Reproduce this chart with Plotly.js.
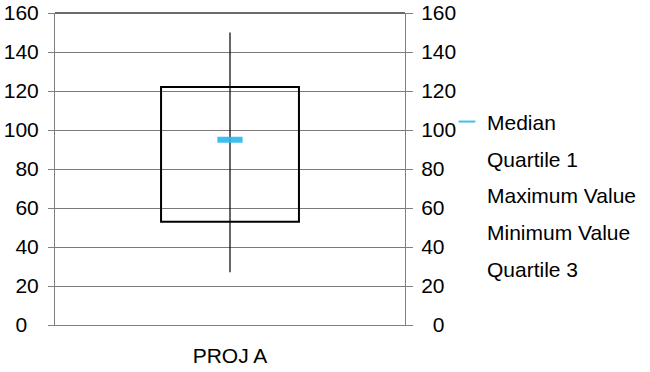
<!DOCTYPE html>
<html><head><meta charset="utf-8">
<script src="https://cdn.plot.ly/plotly-3.0.1.min.js"></script>
<style>html,body{margin:0;padding:0;background:#fff}#chart{width:650px;height:372px}</style>
</head><body><div id="chart"></div>
<script>
const categories = ["PROJ A"];
const quartile1 = [53];
const median = [95];
const quartile3 = [122];
const maxValue = [150];
const minValue = [27];
const yTicks = [0, 20, 40, 60, 80, 100, 120, 140, 160];

const FONT = {family: "Liberation Sans, Arial, sans-serif", size: 21, color: "#000"};
const boxHeight = quartile3.map((v, i) => v - quartile1[i]);
const leftText = yTicks.map(v => v === 0 ? "0\u2007" : String(v));
const rightText = yTicks.map(v => v === 0 ? "\u20070" : String(v));
const hidden = {color: "rgba(0,0,0,0)", size: 0, opacity: 0, line: {width: 0}};

const traces = [
  {type: "bar", x: categories, y: boxHeight, base: quartile1, width: 0.394,
   marker: {color: "rgba(255,255,255,0)", line: {color: "#000", width: 2}},
   showlegend: false, hoverinfo: "skip"},
  {type: "scatter", mode: "lines", x: [categories[0], categories[0]], y: [minValue[0], maxValue[0]],
   line: {color: "#000", width: 1.2}, showlegend: false, hoverinfo: "skip"},
  {type: "scatter", mode: "markers", name: "Median", x: categories, y: median, legendgroup: "a",
   marker: {symbol: "line-ew", size: 18, color: "#2cb8ea", opacity: 0.9, line: {color: "#2cb8ea", width: 6}}},
  {type: "scatter", mode: "markers", name: "Quartile 1", x: categories, y: quartile1, legendgroup: "b", marker: hidden},
  {type: "scatter", mode: "markers", name: "Maximum Value", x: categories, y: maxValue, legendgroup: "c", marker: hidden},
  {type: "scatter", mode: "markers", name: "Minimum Value", x: categories, y: minValue, legendgroup: "d", marker: hidden},
  {type: "scatter", mode: "markers", name: "Quartile 3", x: categories, y: quartile3, legendgroup: "e", marker: hidden},
  {type: "scatter", mode: "markers", x: categories, y: median, yaxis: "y2",
   marker: hidden, showlegend: false, hoverinfo: "skip"}
];

const layout = {
  width: 650, height: 372,
  margin: {l: 55, r: 245, t: 13, b: 47},
  paper_bgcolor: "#fff", plot_bgcolor: "#fff",
  font: FONT,
  showlegend: true,
  xaxis: {type: "category", range: [-0.5, 0.5], showgrid: false, ticks: "",
          showline: true, linecolor: "#7f7f7f", linewidth: 1, mirror: false,
          tickfont: FONT, ticklabelstandoff: 12, fixedrange: true},
  yaxis: {range: [0, 160], tickvals: yTicks, ticktext: leftText,
          showgrid: true, gridcolor: "#7a7a7a", gridwidth: 1, zeroline: false,
          showline: true, linecolor: "#7f7f7f", linewidth: 1,
          ticks: "outside", ticklen: 6, tickcolor: "#7f7f7f", tickfont: FONT,
          ticklabelstandoff: 5},
  yaxis2: {range: [0, 160], tickvals: yTicks, ticktext: rightText,
           overlaying: "y", side: "right", showgrid: false, zeroline: false,
           showline: true, linecolor: "#7f7f7f", linewidth: 1,
           ticks: "outside", ticklen: 7, tickcolor: "#7f7f7f", tickfont: FONT,
           ticklabelstandoff: 4},
  shapes: [{type: "line", xref: "paper", yref: "paper", x0: 0, x1: 1, y0: 1, y1: 1,
            line: {color: "#3a3a3a", width: 1.5}}],
  legend: {xref: "container", yref: "container", x: 0.6877, xanchor: "left",
           y: 0.7274, yanchor: "top", font: FONT,
           itemsizing: "constant",
           traceorder: "grouped", tracegroupgap: 6.5, bgcolor: "rgba(0,0,0,0)"}
};

Plotly.newPlot("chart", traces, layout, {displayModeBar: false, staticPlot: true});
</script></body></html>
